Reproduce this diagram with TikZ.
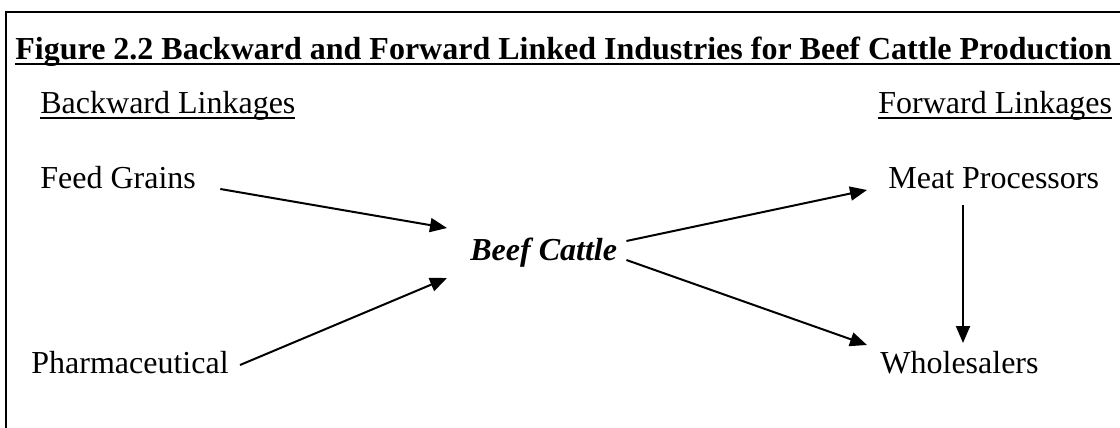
\documentclass[tikz,border=0pt]{standalone}
\usepackage{fontspec}
\setmainfont{Liberation Serif}
\usetikzlibrary{arrows.meta}

\newsavebox{\ulbox}
\newcommand{\headline}[1]{\sbox{\ulbox}{#1}\rlap{\rule[-2.8pt]{\wd\ulbox}{0.65pt}}\usebox{\ulbox}}
\newcommand{\titleline}[1]{\sbox{\ulbox}{#1}\rlap{\rule[-3pt]{\dimexpr\wd\ulbox+10pt\relax}{1pt}}\usebox{\ulbox}}

\tikzset{
	lbl/.style={inner sep=0pt, anchor=base west, font=\fontsize{16}{19}\selectfont},
	link/.style={-{Triangle[length=8.5pt,width=7pt]}, line width=1pt},
}

\begin{document}
\begin{tikzpicture}[x=0.5pt,y=-0.5pt]
		\useasboundingbox (0,0) rectangle (1120,428);
		
		% Frame
		\draw[line width=0.65pt] (6,440) -- (6,12) -- (1130,12);
		
		% Labels
		\node[lbl, font=\fontsize{16}{19}\selectfont\bfseries] (title) at (15,59) {\titleline{Figure 2.2 Backward and Forward Linked Industries for Beef Cattle Production}};
		
		\node[lbl] (back) at (40,113) {\headline{Backward Linkages}};
		\node[lbl] (fwd) at (878,113) {\headline{Forward Linkages}};
		
		\node[lbl] (feed) at (40,188) {Feed Grains};
		\node[lbl] (pharm) at (31,373) {Pharmaceutical};
		
		\node[lbl, font=\fontsize{16}{19}\selectfont\bfseries\itshape] (beef) at (470,260) {Beef Cattle};
		
		\node[lbl] (meat) at (888,188) {Meat Processors};
		\node[lbl] (whole) at (880,373) {Wholesalers};
		
		% Arrows
		\draw[link] ([shift={(24,1)}]feed.base east) -- ([shift={(-23,-32)}]beef.base west);
		\draw[link] ([shift={(11,-8)}]pharm.base east) -- ([shift={(-23,18)}]beef.base west);
		\draw[link] ([shift={(9,-19)}]beef.base east) -- ([shift={(-21,2)}]meat.base west);
		\draw[link] ([shift={(9,0)}]beef.base east) -- ([shift={(-13,-28)}]whole.base west);
		\draw[link] ([shift={(75,17)}]meat.base west) -- ([shift={(83,-30)}]whole.base west);
		
\end{tikzpicture}
\end{document}
